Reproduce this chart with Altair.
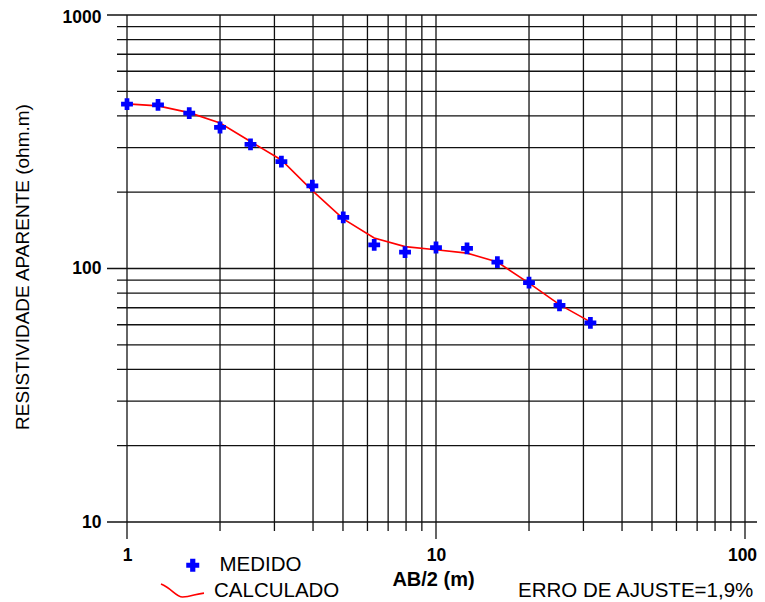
import altair as alt
import pandas as pd

# ---- data ----
ab2 = [1, 1.26, 1.59, 2, 2.51, 3.16, 3.98, 5.01, 6.31, 7.94, 10, 12.6, 15.8, 20, 25.1, 31.6]
rho_medido = [445, 442, 410, 360, 309, 264, 212, 159, 124, 116, 121, 120, 106, 88, 71.5, 61]
rho_calculado = [446, 438, 412, 375, 317, 268, 203, 157, 132, 122, 118.5, 115, 106, 87.5, 72, 61.6]

x_major = [1, 10, 100]
x_minor = [2, 3, 4, 5, 6, 7, 8, 9, 20, 30, 40, 50, 60, 70, 80, 90]
y_minor = [20, 30, 40, 50, 60, 70, 80, 90, 200, 300, 400, 500, 600, 700, 800, 900]
y_major = [100]
y_border = [10, 1000]
x_labels = [1, 10, 100]
y_labels = [10, 100, 1000]
erro_text = ["ERRO DE AJUSTE=1,9%"]

FONT = "Liberation Sans"
W, H = 618, 507

xs = alt.Scale(type="log", domain=[1, 100], nice=False)
ys = alt.Scale(type="log", domain=[10, 1000], nice=False)

xa = alt.Axis(values=x_labels, format="d", domain=False, ticks=False, tickSize=0, grid=False,
              labelFont=FONT, labelFontSize=17.5, labelFontWeight="bold", labelColor="black",
              labelPadding=24, labelFlush=False, labelOverlap=False,
              labelOffset={"condition": {"test": "datum.value == 100", "value": -3}, "value": 0},
              title="AB/2 (m)", titleFont=FONT, titleFontSize=20, titleFontWeight="bold",
              titleColor="black", titleX=306, titleY=63, titleAlign="center",
              titleBaseline="alphabetic")
ya = alt.Axis(values=y_labels, format="d", domain=False, ticks=False, tickSize=0, grid=False,
              labelFont=FONT, labelFontSize=17.5, labelFontWeight="bold", labelColor="black",
              labelPadding=26, labelFlush=False, labelOverlap=False,
              labelOffset={"condition": {"test": "datum.value == 1000", "value": 2}, "value": 0},
              title="RESISTIVIDADE APARENTE (ohm.m)", titleFont=FONT, titleFontSize=19,
              titleFontWeight="normal", titleColor="black", titleAngle=270,
              titleX=-104.5, titleY=251.5, titleAlign="center", titleBaseline="middle")

df = pd.DataFrame({"ab2": ab2, "med": rho_medido, "calc": rho_calculado})
df["s_med"] = "MEDIDO"
df["s_calc"] = "CALCULADO"

GRID = "#111111"

v_minor = alt.Chart(pd.DataFrame({"x": x_minor})).mark_rule(color=GRID, strokeWidth=1.3).encode(
    x=alt.X("x:Q", scale=xs, axis=xa), y=alt.value(0), y2=alt.value(H + 9))
v_major = alt.Chart(pd.DataFrame({"x": x_major})).mark_rule(color=GRID, strokeWidth=1.3).encode(
    x=alt.X("x:Q", scale=xs, axis=xa), y=alt.value(0), y2=alt.value(H + 17))
h_minor = alt.Chart(pd.DataFrame({"y": y_minor})).mark_rule(color=GRID, strokeWidth=1.3).encode(
    y=alt.Y("y:Q", scale=ys, axis=ya), x=alt.value(-10), x2=alt.value(W + 10))
h_major = alt.Chart(pd.DataFrame({"y": y_major})).mark_rule(color=GRID, strokeWidth=1.3).encode(
    y=alt.Y("y:Q", scale=ys, axis=ya), x=alt.value(-20), x2=alt.value(W + 10))
h_border = alt.Chart(pd.DataFrame({"y": y_border})).mark_rule(color=GRID, strokeWidth=1.3).encode(
    y=alt.Y("y:Q", scale=ys, axis=ya), x=alt.value(-20), x2=alt.value(W + 12))

line = alt.Chart(df).mark_line(strokeWidth=1.6).encode(
    x=alt.X("ab2:Q", scale=xs, axis=xa),
    y=alt.Y("calc:Q", scale=ys, axis=ya),
    stroke=alt.Stroke("s_calc:N", scale=alt.Scale(domain=["CALCULADO"], range=["#ff0000"]),
                      legend=alt.Legend(orient="none", legendX=33, legendY=553, title=None,
                                        padding=0, labelFont=FONT, labelFontSize=20.5,
                                        labelColor="black", labelOffset=9, symbolSize=1849,
                                        symbolStrokeWidth=1.6, symbolFillColor="transparent",
                                        symbolType="M-1,-0.3 C-0.5,-0.1 -0.3,0.3 0,0.3 C0.4,0.3 0.6,0.15 1,0.12")),
)

pts = alt.Chart(df).mark_point(shape="cross", filled=True, size=140, opacity=1).encode(
    x=alt.X("ab2:Q", scale=xs, axis=xa),
    y=alt.Y("med:Q", scale=ys, axis=ya),
    fill=alt.Fill("s_med:N", scale=alt.Scale(domain=["MEDIDO"], range=["#0000ff"]),
                  legend=alt.Legend(orient="none", legendX=55.5, legendY=540, title=None,
                                    padding=0, labelFont=FONT, labelFontSize=20.5,
                                    labelColor="black", labelOffset=16.5, symbolSize=169,
                                    symbolType="cross", symbolOpacity=1)),
)

erro = alt.Chart(pd.DataFrame({"t": erro_text})).mark_text(
    align="left", baseline="alphabetic", font=FONT, fontSize=20.5, color="black").encode(
    x=alt.value(391), y=alt.value(582), text="t:N")

chart = alt.layer(v_minor, v_major, h_minor, h_major, h_border, line, pts, erro).properties(
    width=W, height=H,
    autosize=alt.AutoSizeParams(type="none"),
    padding={"left": 119, "top": 7, "right": 12, "bottom": 80},
    background="white",
).configure_view(strokeWidth=0)

chart.save("out.html", embed_options={"renderer": "svg", "actions": False})
